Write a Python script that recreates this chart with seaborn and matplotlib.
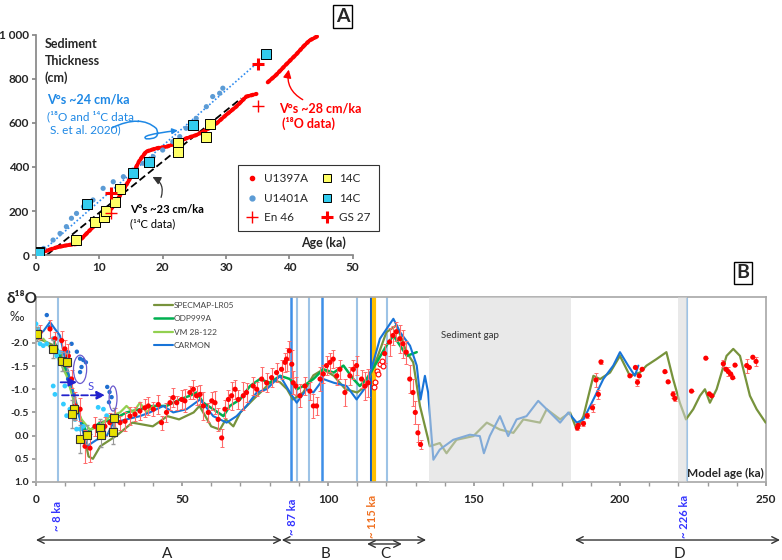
import matplotlib
matplotlib.use("Agg")
import matplotlib.pyplot as plt
import matplotlib.transforms as mtransforms
from matplotlib.patches import Ellipse, FancyArrowPatch
from matplotlib.path import Path
from matplotlib.lines import Line2D
from matplotlib.ticker import MultipleLocator
import pandas as pd
import seaborn as sns

# ── Panel A data: sediment thickness vs age ──────────────────────────
a_u1397_age = [0, 1.5, 3.3, 5.0, 6.4, 8.0, 9.6, 10.6, 12.2, 13.8, 15.3, 16.4, 17.4,
               19.0, 20.6, 22.2, 23.7, 25.3, 26.9, 28.5, 30.0, 31.6, 33.2, 34.8]
a_u1397_cm = [0, 18, 35, 45, 50, 98, 144, 174, 220, 295, 371, 432, 470,
              485, 492, 508, 530, 545, 568, 598, 636, 674, 720, 732]
a_u1397b_age = [36.6, 37.9, 39.5, 41.1, 42.3, 43.2, 44.5]
a_u1397b_cm = [785, 818, 866, 912, 950, 975, 995]

a_u1401_age = [1.2, 2.7, 3.8, 4.8, 5.6, 6.4, 7.5, 9.0, 10.6, 12.2, 13.8, 15.3, 16.9,
               18.5, 20.0, 21.6, 22.7, 23.7, 25.3, 26.9, 27.9, 29.0, 29.5]
a_u1401_cm = [30, 68, 98, 129, 167, 189, 220, 250, 303, 333, 356, 386, 417,
              447, 477, 515, 538, 576, 621, 674, 720, 735, 758]

a_c14y_age = [0.5, 6.3, 9.3, 10.7, 11.0, 12.4, 13.2, 17.9, 22.4, 22.5, 26.8, 27.4]
a_c14y_cm = [12, 68, 152, 174, 202, 239, 298, 424, 508, 470, 538, 595]
a_c14c_age = [0.5, 8.1, 15.3, 17.8, 24.8, 36.3]
a_c14c_cm = [11, 232, 371, 424, 592, 912]
a_en46_age = [11.8, 35.0]
a_en46_cm = [192, 677]
a_gs27_age = [11.9, 35.0]
a_gs27_cm = [283, 868]

fit24_age = [0.5, 36.0]
fit24_cm = [5, 900]
fit23_age = [1.7, 32.4]
fit23_cm = [0, 712]

# ── Panel B data: d18O vs model age ──────────────────────────────────
specmap_age = [0, 2.5, 5.9, 8.5, 10.5, 13.0, 15.5, 18.0, 19.5, 22.0, 27.6, 33.0, 40.0, 45.0,
               49.0, 54.0, 56.0, 60.0, 63.0, 65.0, 67.6, 70.0, 74.4, 78.0, 81.0, 83.6,
               86.0, 88.0, 91.5, 95.0, 98.4, 102.0, 106.0, 110.0, 113.0, 116.7, 120.0,
               123.5, 126.9, 129.2, 131.5, 134.9, 138.3, 140.6, 144.0, 149.8, 154.4,
               158.9, 163.5, 166.9, 172.6, 174.9, 179.5, 182.9, 185.2, 187.5, 190.9,
               193.2, 196.6, 200.0, 203.4, 206.8, 209.1, 212.5, 215.9, 218.2, 220.5,
               222.6, 225.1, 227.4, 229.1, 230.8, 233.1, 236.5, 238.8, 241.1, 244.5,
               246.8, 249.9]
specmap_d = [-2.1, -2.05, -1.95, -1.75, -1.45, -0.9, -0.3, 0.45, 0.5, 0.23, 0.0, -0.28, -0.2,
             -0.42, -0.35, -0.5, -0.64, -0.2, -0.13, -0.35, -0.2, -0.5, -0.78, -1.0, -1.2,
             -1.15, -1.0, -0.78, -0.93, -1.3, -1.43, -1.29, -1.0, -0.93, -1.07, -1.65,
             -2.23, -2.38, -1.8, -1.58, -0.64, 0.23, 0.16, 0.38, 0.09, 0.01, -0.28,
             -0.13, -0.06, -0.35, -0.28, -0.57, -0.35, -0.5, -0.13, -0.42, -1.29,
             -1.22, -1.36, -1.72, -1.29, -1.36, -1.51, -1.65, -1.8, -1.22, -0.71,
             -0.35, -0.57, -0.86, -1.0, -0.71, -1.0, -1.72, -1.87, -1.72, -0.86,
             -0.57, -0.28]

carmon_age = [0, 2.5, 4.8, 6.5, 8.2, 10.5, 13.9, 17.4, 20.8, 24.2, 26.5, 31.0, 35.6, 39.0,
              43.6, 47.0, 51.6, 56.2, 60.7, 65.3, 68.7, 72.1, 75.6, 79.0, 83.6, 87.0,
              89.3, 92.7, 95.0, 98.4, 102.0, 106.4, 109.8, 113.2, 117.8, 122.4, 124.7,
              128.1, 130.4, 131.7, 133.2, 134.3, 136.1, 138.3, 142.9, 148.6, 152.0,
              153.4, 155.4, 158.9, 161.7, 164.6, 168.0, 172.0, 174.9, 179.5, 182.3,
              185.2, 187.5, 190.9, 194.3, 197.7, 200.0, 202.8, 205.1, 206.3]
carmon_d = [-2.2, -2.25, -2.45, -2.3, -2.16, -1.5, -0.64, 0.23, 0.09, 0.01, -0.28, -0.35,
            -0.42, -0.5, -0.64, -0.5, -0.57, -0.78, -0.42, -0.28, -0.42, -0.64, -0.93,
            -1.0, -1.29, -0.93, -0.71, -1.0, -0.93, -1.22, -1.14, -1.07, -0.78, -1.07,
            -2.09, -2.52, -2.23, -1.94, -1.51, -0.78, -1.29, -0.93, 0.52, 0.30, 0.09,
            -0.02, 0.01, 0.38, 0.01, -0.42, 0.01, -0.35, -0.42, -0.75, -0.57, -0.28,
            -0.5, -0.28, -0.35, -0.78, -1.22, -1.51, -1.8, -1.51, -1.29, -1.51]

odp_age = [5.9, 10.5, 13.9, 17.4, 21.9, 26.5, 31.0, 35.6, 40.0, 44.7, 49.3, 52.7, 55.0,
           57.3, 60.7, 64.2, 66.4, 69.9, 73.3, 76.7, 80.1, 83.6, 87.0, 89.3, 91.6, 95.0,
           98.4, 102.0, 105.3, 108.7, 110.9, 113.2, 116.7, 120.0, 122.4, 124.7, 127.0,
           128.7, 130.4]
odp_d = [-2.09, -1.36, -0.57, -0.06, -0.28, -0.35, -0.5, -0.57, -0.64, -0.64, -0.78, -0.86,
         -0.93, -0.71, -0.57, -0.42, -0.64, -0.78, -1.07, -1.22, -1.14, -1.29, -1.22, -1.0,
         -1.07, -1.22, -1.43, -1.36, -1.51, -1.22, -1.07, -1.22, -1.58, -1.94, -2.16,
         -1.94, -1.72, -1.76, -1.8]

vm_age = [2.5, 7.1, 10.5, 12.8, 15.6, 18.5, 21.9, 25.3, 28.8, 31.0, 33.3, 35.6, 37.9, 40.2]
vm_d = [-2.09, -1.72, -1.29, -0.78, -0.35, -0.13, -0.2, -0.42, -0.5, -0.64, -0.5, -0.71,
        -0.5, -0.64]

red_age = [1.4, 4.8, 6.5, 8.8, 9.9, 11.1, 12.2, 13.4, 15.1, 16.8, 18.5, 20.2, 21.9, 23.6,
           25.3, 27.1, 28.8, 30.5, 32.2, 33.9, 35.6, 37.3, 38.5, 40.2, 41.9, 43.0, 44.7,
           45.9, 47.0, 48.2, 49.9, 51.0, 52.7, 53.9, 55.0, 56.2, 57.3, 59.0, 60.2, 61.3,
           62.4, 63.6, 64.7, 65.9, 67.0, 68.2, 69.3, 71.0, 72.1, 74.4, 75.6, 77.3, 79.0,
           80.7, 82.4, 84.1, 85.3, 85.8, 86.8, 87.6, 88.1, 89.0, 90.4, 92.1, 93.8, 95.0,
           96.1, 97.3, 98.4, 99.5, 100.7, 101.8, 103.0, 104.1, 105.8, 107.5, 108.7, 109.8,
           111.5, 112.7, 113.8, 119.4, 121.1, 122.3, 123.4, 124.6, 125.7, 126.8, 128.0,
           129.1, 129.9, 130.8, 131.7, 185.4, 185.7, 187.5, 188.8, 190.6, 192.6, 191.8,
           193.5, 203.4, 205.3, 206.0, 206.6, 207.6, 215.4, 216.5, 218.2, 218.8, 224.5,
           229.4, 230.6, 231.4, 235.4, 236.3, 237.1, 237.9, 238.6, 239.4, 243.4, 244.3,
           245.5, 246.6]
red_d = [-2.23, -2.3, -2.09, -2.05, -1.87, -1.72, -1.22, -0.64, -0.57, 0.23, 0.27, -0.2,
         -0.17, -0.2, -0.28, -0.35, -0.28, -0.31, -0.42, -0.46, -0.53, -0.6, -0.64, -0.57,
         -0.67, -0.28, -0.5, -0.71, -0.82, -0.71, -0.78, -0.75, -0.93, -1.0, -0.86, -0.89,
         -0.64, -0.5, -0.75, -0.71, -0.35, 0.05, -0.57, -0.78, -0.86, -1.0, -0.78, -0.86,
         -0.93, -1.07, -1.0, -1.22, -1.14, -1.25, -1.36, -1.43, -1.58, -1.65, -1.83, -1.54,
         -1.14, -1.07, -0.86, -1.07, -0.96, -0.64, -0.64, -1.22, -1.33, -1.51, -1.58,
         -1.65, -1.29, -1.43, -0.93, -1.29, -1.43, -1.51, -1.22, -1.07, -1.14, -1.77,
         -2.02, -2.16, -2.24, -2.09, -1.98, -1.8, -1.22, -0.93, -0.5, -0.06, 0.19, -0.17,
         -0.22, -0.26, -0.43, -0.6, -0.89, -1.2, -1.59, -1.29, -1.47, -1.15, -1.29, -1.43,
         -1.38, -1.16, -0.89, -0.8, -0.96, -1.67, -0.9, -0.86, -1.55, -1.43, -1.38, -1.33,
         -1.25, -1.52, -1.51, -1.47, -1.69, -1.6]
red_err = [0.15, 0.2, 0.15, 0.2, 0.2, 0.25, 0.2, 0.3, 0.25, 0.35, 0.3, 0.2, 0.15, 0.2,
           0.2, 0.25, 0.15, 0.2, 0.2, 0.15, 0.2, 0.2, 0.2, 0.15, 0.2, 0.15, 0.2,
           0.15, 0.2, 0.15, 0.2, 0.25, 0.15, 0.2, 0.2, 0.2, 0.3, 0.2, 0.2, 0.25,
           0.25, 0.2, 0.2, 0.2, 0.3, 0.2, 0.2, 0.3, 0.2, 0.2, 0.15, 0.25, 0.2,
           0.2, 0.2, 0.2, 0.2, 0.25, 0.2, 0.3, 0.25, 0.2, 0.25, 0.2, 0.2, 0.25,
           0.2, 0.25, 0.2, 0.2, 0.2, 0.2, 0.2, 0.2, 0.3, 0.2, 0.2, 0.2,
           0.2, 0.3, 0.3, 0.2, 0.3, 0.2, 0.2, 0.3, 0.3, 0.25, 0.3,
           0.3, 0.25, 0.2, 0.1, 0.05, 0.05, 0.05, 0.05, 0.08, 0.1, 0.15,
           0.05, 0.0, 0.0, 0.08, 0.0, 0.0, 0.0, 0.0, 0.08, 0.05, 0.0,
           0.0, 0.0, 0.0, 0.08, 0.0, 0.1, 0.0, 0.0, 0.0, 0.15, 0.0,
           0.0, 0.1]

red_open_age = [115.6, 116.1, 116.8, 117.3, 117.9, 118.4, 118.9]
red_open_d = [-1.05, -1.15, -1.4, -1.33, -1.55, -1.62, -1.5]

cyan_age = [0.0, 0.8, 1.4, 2.5, 3.7, 5.9, 7.1, 8.2, 5.9, 6.5, 9.9, 9.4, 10.5, 11.6, 13.4,
            13.9, 15.1, 16.2, 21.3, 23.1, 24.2, 21.9]
cyan_d = [-2.41, -2.3, -1.98, -1.94, -1.98, -2.09, -1.72, -1.8, -1.07, -0.89, -1.07, -0.68,
          -0.43, -0.57, -0.35, -0.14, -0.14, -0.2, -0.61, -0.57, -0.43, 0.01]
blue_age = [3.7, 4.8, 11.0, 12.2, 11.0, 14.0, 15.1, 16.2, 15.6, 17.1, 15.1, 24.4, 25.2,
            25.9, 25.0]
blue_d = [-2.6, -2.34, -1.8, -1.98, -1.22, -1.81, -1.66, -1.63, -1.48, -1.58, -1.37,
          -1.05, -0.94, -0.83, -0.72]

sq_age = [0.2, 5.9, 9.0, 10.5, 13.0, 12.2, 15.1, 17.6, 21.9, 22.1, 26.8, 26.5]
sq_d = [-2.19, -1.87, -1.6, -1.59, -0.58, -0.46, 0.07, -0.02, -0.16, -0.01, -0.39, -0.07]
sq_err = [0.15, 0.2, 0.2, 0.2, 0.25, 0.3, 0.3, 0.2, 0.2, 0.25, 0.2, 0.25]

vlines_light = [7.5, 89.3, 93.4, 109.8, 120.1, 222.8]
vlines_mid = [87.2, 98.1]
vline_dark = 114.6
vline_orange = 115.6
gap_band = (134.7, 183.1)
small_band = (219.9, 222.8)

# ── Theme ────────────────────────────────────────────────────────────
sns.set_theme(style="white")
plt.rcParams["font.family"] = ["Lato", "DejaVu Sans"]
plt.rcParams["axes.unicode_minus"] = False

RED = "#FF0000"
OLIVE = "#77933C"
GREEN = "#00B050"
LGREEN = "#92D050"
BLUE = "#1874D8"

fig = plt.figure(figsize=(7.82, 5.6), dpi=100)

# ── Panel A ──────────────────────────────────────────────────────────
axA = fig.add_axes([0.046, 0.5446, 0.405, 0.393])
sns.lineplot(x=fit24_age, y=fit24_cm, ax=axA, color="#2E8BEF", lw=1.2,
             linestyle=(0, (1.0, 1.3)), sort=False, estimator=None)
sns.lineplot(x=fit23_age, y=fit23_cm, ax=axA, color="black", lw=1.3,
             linestyle=(0, (4, 2)), sort=False, estimator=None)
for ag, cm in [(a_u1397_age, a_u1397_cm), (a_u1397b_age, a_u1397b_cm)]:
    axA.plot(ag, cm, color=RED, lw=3, linestyle=(0, (0.6, 0.6)),
             dash_capstyle="round", zorder=3)
sns.scatterplot(x=a_u1401_age, y=a_u1401_cm, ax=axA, color="#5B9BD5", s=14,
                edgecolor="none", zorder=3)
sns.scatterplot(x=a_c14y_age, y=a_c14y_cm, ax=axA, color="#FFFF66", marker="s",
                s=45, edgecolor="black", linewidth=0.7, zorder=4)
sns.scatterplot(x=a_c14c_age, y=a_c14c_cm, ax=axA, color="#33CCEE", marker="s",
                s=45, edgecolor="black", linewidth=0.7, zorder=4)
axA.plot(a_en46_age, a_en46_cm, "+", color=RED, ms=9, mew=1.0, zorder=5)
axA.plot(a_gs27_age, a_gs27_cm, "+", color=RED, ms=9, mew=2.2, zorder=5)

axA.set_xlim(0, 50)
axA.set_ylim(0, 1000)
axA.set_xticks(range(0, 51, 10))
axA.set_yticks(range(0, 1001, 200))
axA.set_yticklabels(["0", "200", "400", "600", "800", "1 000"])
for s in ["top", "right"]:
    axA.spines[s].set_visible(False)
for s in ["left", "bottom"]:
    axA.spines[s].set_color("#888888")
axA.tick_params(axis="both", labelsize=8.5, length=3, color="#888888",
                direction="out", bottom=True, left=True, pad=2)
plt.setp(axA.get_xticklabels() + axA.get_yticklabels(), fontweight="bold")
axA.set_xlabel("")
axA.set_ylabel("")

axA.text(1.4, 985, "Sediment\nThickness\n(cm)", fontsize=9, fontweight="bold",
         va="top", ha="left", linespacing=1.45)
axA.text(49, 55, "Age (ka)", fontsize=9, fontweight="bold", ha="right", va="center")
axA.text(1.8, 705, "V°s ~24 cm/ka", color="#1E88E5", fontsize=9, fontweight="bold",
         va="center")
axA.text(1.8, 600, "(¹⁸O and ¹⁴C data ,\n S. et al. 2020)", color="#1E88E5",
         fontsize=8.5, va="center", linespacing=1.3)
axA.text(38.3, 668, "V°s ~28 cm/ka", color=RED, fontsize=9, fontweight="bold",
         va="center")
axA.text(38.8, 598, "(¹⁸O data)", color=RED, fontsize=9, fontweight="bold",
         va="center")
axA.text(14.8, 205, "V°s ~23 cm/ka", color="black", fontsize=8, fontweight="bold",
         va="center")
axA.text(14.8, 140, "(¹⁴C data)", color="black", fontsize=8, va="center")

# squiggly pointer from the blue caption to the blue fit line
squiggle = Path([(12.0, 578), (16.5, 640), (19.0, 575), (19.8, 525), (17.4, 528),
                 (16.2, 545), (22.4, 566)],
                [Path.MOVETO, Path.CURVE3, Path.CURVE3, Path.CURVE3, Path.CURVE3,
                 Path.CURVE3, Path.CURVE3])
axA.add_patch(FancyArrowPatch(path=squiggle, transform=axA.transData, arrowstyle="-|>",
                              mutation_scale=8, color="#1E88E5", lw=1.1))
axA.annotate("", xy=(40.0, 855), xytext=(42.5, 700),
             arrowprops=dict(arrowstyle="-|>", color=RED, lw=1.0,
                             connectionstyle="arc3,rad=-0.4"))
axA.annotate("", xy=(18.0, 360), xytext=(19.6, 250),
             arrowprops=dict(arrowstyle="-|>", color="#333333", lw=0.9,
                             connectionstyle="arc3,rad=0.5"))

legA = [
    Line2D([], [], color=RED, marker="o", ms=3, lw=0, label="U1397A"),
    Line2D([], [], color="#5B9BD5", marker="o", ms=3.5, lw=0, label="U1401A"),
    Line2D([], [], color=RED, marker="+", ms=8, mew=1.0, lw=0, label="En 46"),
    Line2D([], [], color="#FFFF66", marker="s", ms=6, mec="black", mew=0.7, lw=0,
           label="14C"),
    Line2D([], [], color="#33CCEE", marker="s", ms=6, mec="black", mew=0.7, lw=0,
           label="14C"),
    Line2D([], [], color=RED, marker="+", ms=8, mew=2.2, lw=0, label="GS 27"),
]
lg = axA.legend(handles=legA, ncol=2, loc="upper left", bbox_to_anchor=(0.62, 0.435),
                fontsize=8.5, frameon=True, fancybox=False, edgecolor="black",
                handlelength=1.0, handletextpad=0.5, columnspacing=1.1,
                labelspacing=0.7, borderpad=0.7)
lg.get_frame().set_linewidth(0.8)

fig.text(0.438, 0.970, "A", fontsize=14, fontweight="bold", ha="center", va="center",
         bbox=dict(boxstyle="square,pad=0.15", fc="white", ec="black", lw=1))

# ── Panel B ──────────────────────────────────────────────────────────
axB = fig.add_axes([0.046, 0.1393, 0.9335, 0.3312])

for x in vlines_light:
    axB.axvline(x, color="#9DC3E6", lw=1.5, zorder=1)
for x in vlines_mid:
    axB.axvline(x, color="#3D8FE8", lw=1.8, zorder=1)
axB.axvline(vline_dark, color="#0B5CC8", lw=2.2, zorder=1)
axB.axvline(vline_orange, color="#FFC000", lw=3.0, zorder=1)

curves = [
    (specmap_age, specmap_d, OLIVE, 1.6, "SPECMAP-LR05"),
    (odp_age, odp_d, GREEN, 1.8, "ODP999A"),
    (vm_age, vm_d, LGREEN, 1.6, "VM 28-122"),
    (carmon_age, carmon_d, BLUE, 1.5, "CARMON"),
]
for ag, dv, col, lw, lab in curves:
    sns.lineplot(x=ag, y=dv, ax=axB, color=col, lw=lw, sort=False, estimator=None,
                 zorder=3)

sns.scatterplot(x=cyan_age, y=cyan_d, ax=axB, color="#33CCFF", s=12, edgecolor="none",
                zorder=4)
sns.scatterplot(x=blue_age, y=blue_d, ax=axB, color="#1F6FD0", s=10, edgecolor="none",
                zorder=4)

axB.errorbar(red_age, red_d, yerr=red_err, fmt="none", ecolor="#FF6B6B", elinewidth=0.8,
             capsize=1.5, capthick=0.7, zorder=4)
sns.scatterplot(x=red_age, y=red_d, ax=axB, color=RED, s=14, edgecolor="none", zorder=5)
axB.plot(red_open_age, red_open_d, "o", mfc="white", mec=RED, ms=3.5, mew=0.8, zorder=5)

axB.errorbar(sq_age, sq_d, yerr=sq_err, fmt="none", ecolor="#999999", elinewidth=0.8,
             capsize=1.5, zorder=5)
sns.scatterplot(x=sq_age, y=sq_d, ax=axB, color="#E8E000", marker="s", s=40,
                edgecolor="#333333", linewidth=0.8, zorder=6)

axB.axvspan(*gap_band, color="#D8D8D8", alpha=0.55, lw=0, zorder=7)
axB.axvspan(*small_band, color="#D8D8D8", alpha=0.55, lw=0, zorder=7)

axB.add_patch(Ellipse((15.1, -1.43), 4.5, 0.61, fill=False, ec="#6A5ACD", lw=0.9,
                      zorder=8))
axB.add_patch(Ellipse((26.4, -0.80), 2.7, 0.54, fill=False, ec="#6A5ACD", lw=0.9,
                      zorder=8))
axB.annotate("", xy=(15.0, -1.15), xytext=(7.5, -1.15), zorder=8,
             arrowprops=dict(arrowstyle="-|>", color="#2222CC", lw=1.3))
axB.annotate("", xy=(24.6, -0.87), xytext=(8.0, -0.87), zorder=8,
             arrowprops=dict(arrowstyle="-|>", color="#2222CC", lw=1.3, linestyle="--"))
axB.text(17.8, -1.07, "S", color="#4444DD", fontsize=8, va="center", zorder=8)

axB.text(148.6, -2.17, "Sediment gap", fontsize=7, color="#333333", ha="center",
         va="center", zorder=8)
axB.text(0.997, 0.045, "Model age (ka)", transform=axB.transAxes, fontsize=8.5,
         fontweight="bold", ha="right", va="center", zorder=8)

axB.set_xlim(0, 250)
axB.set_ylim(1.0, -3.0)
axB.xaxis.set_major_locator(MultipleLocator(50))
axB.xaxis.set_minor_locator(MultipleLocator(10))
axB.set_yticks([-2.0, -1.5, -1.0, -0.5, 0.0, 0.5, 1.0])
axB.set_yticklabels(["-2.0", "-1.5", "-1.0", "-0.5", "0.0", "0.5", "1.0"])
for s in axB.spines.values():
    s.set_color("#AAAAAA")
axB.tick_params(axis="x", which="both", bottom=True, direction="out", length=3,
                color="#999999", labelsize=8.5, pad=6)
axB.tick_params(axis="y", left=True, direction="out", length=3, color="#999999",
                labelsize=7.5, pad=2)
plt.setp(axB.get_xticklabels() + axB.get_yticklabels(), fontweight="bold")
axB.set_xlabel("")
axB.set_ylabel("")

legB = [Line2D([], [], color=c, lw=lw, label=lab) for _, _, c, lw, lab in curves]
axB.legend(handles=legB, loc="upper left", bbox_to_anchor=(0.152, 1.01), fontsize=6,
           frameon=False, handlelength=2.2, handletextpad=0.1, labelspacing=0.75,
           labelcolor="#444444")

fig.text(0.008, 0.466, "δ¹⁸O", fontsize=11, fontweight="bold", ha="left", va="center")
fig.text(0.012, 0.434, "‰", fontsize=9, ha="left", va="center")
fig.text(0.950, 0.5125, "B", fontsize=14, fontweight="bold", ha="center", va="center",
         bbox=dict(boxstyle="square,pad=0.12", fc="white", ec="black", lw=1))

# labels and period arrows below panel B
trans = mtransforms.blended_transform_factory(axB.transData, fig.transFigure)
for x, lab, col in [(7.5, "~ 8 ka", "#3333FF"), (87.7, "~ 87 ka", "#3333FF"),
                    (115.4, "~ 115 ka", "#F07020"), (222.0, "~ 226 ka", "#3333FF")]:
    axB.text(x, 0.078, lab, transform=trans, rotation=90, ha="center", va="center",
             fontsize=8, fontweight="bold", color=col, clip_on=False)

for x0, x1, y in [(0, 84.2, 0.0357), (84.2, 133.6, 0.0357), (113.4, 125.3, 0.0286),
                  (184.6, 254.8, 0.0357)]:
    axB.annotate("", xy=(x1, y), xytext=(x0, y), xycoords=trans, textcoords=trans,
                 annotation_clip=False,
                 arrowprops=dict(arrowstyle="<->", color="#333333", lw=1.0,
                                 shrinkA=0, shrinkB=0))
for x, lab in [(44.9, "A"), (99.0, "B"), (119.5, "C"), (220.5, "D")]:
    axB.text(x, 0.011, lab, transform=trans, ha="center", va="center", fontsize=11,
             color="#222222", clip_on=False)

fig.savefig("out.png", dpi=100)
plt.close(fig)
